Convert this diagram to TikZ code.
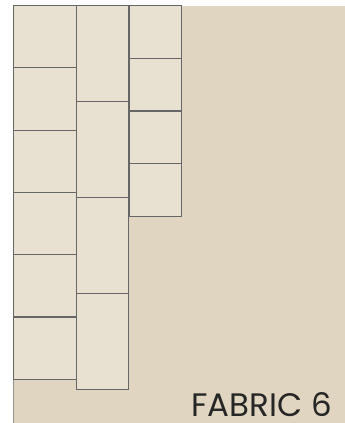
\documentclass[tikz,border=0pt]{standalone}
\usepackage{fontspec}
\setmainfont{Poppins}
\usepackage{tikz}
\definecolor{fabricbg}{HTML}{E0D5C0}
\definecolor{tilefill}{HTML}{E8E0D1}
\definecolor{seam}{HTML}{666666}
\tikzset{tile/.style = {draw = seam, fill = tilefill, line width = 1.2pt}}
\tikzset{label/.style = {anchor = base east, inner sep = 0pt, text depth = 0pt,
    text = black!85, font = \fontsize{32.5}{33}\selectfont}}

\begin{document}
\begin{tikzpicture}[x = 1pt, y = -1pt]
	\useasboundingbox (0, 0) rectangle (345, 423);
	\fill[fabricbg] (13.5, 5.5) rectangle (345, 423);
	\draw[seam!70, line width = 1.2pt] (13.5, 379) -- (13.5, 423);

	% left column: six tiles
	\foreach \i in {0,...,5}
		\draw[tile] (13.5, 5.5 + 62.3*\i) rectangle (76.3, 5.5 + 62.3*\i + 62.3);
	% middle column: four long tiles
	\foreach \i in {0,...,3}
		\draw[tile] (76.3, 5.5 + 95.9*\i) rectangle (128.7, 5.5 + 95.9*\i + 95.9);
	% right column: four short tiles
	\foreach \i in {0,...,3}
		\draw[tile] (129, 5.5 + 52.7*\i) rectangle (181.5, 5.5 + 52.7*\i + 52.7);

	\node[label] (name) at (332, 416) {FABRIC 6};
\end{tikzpicture}
\end{document}
